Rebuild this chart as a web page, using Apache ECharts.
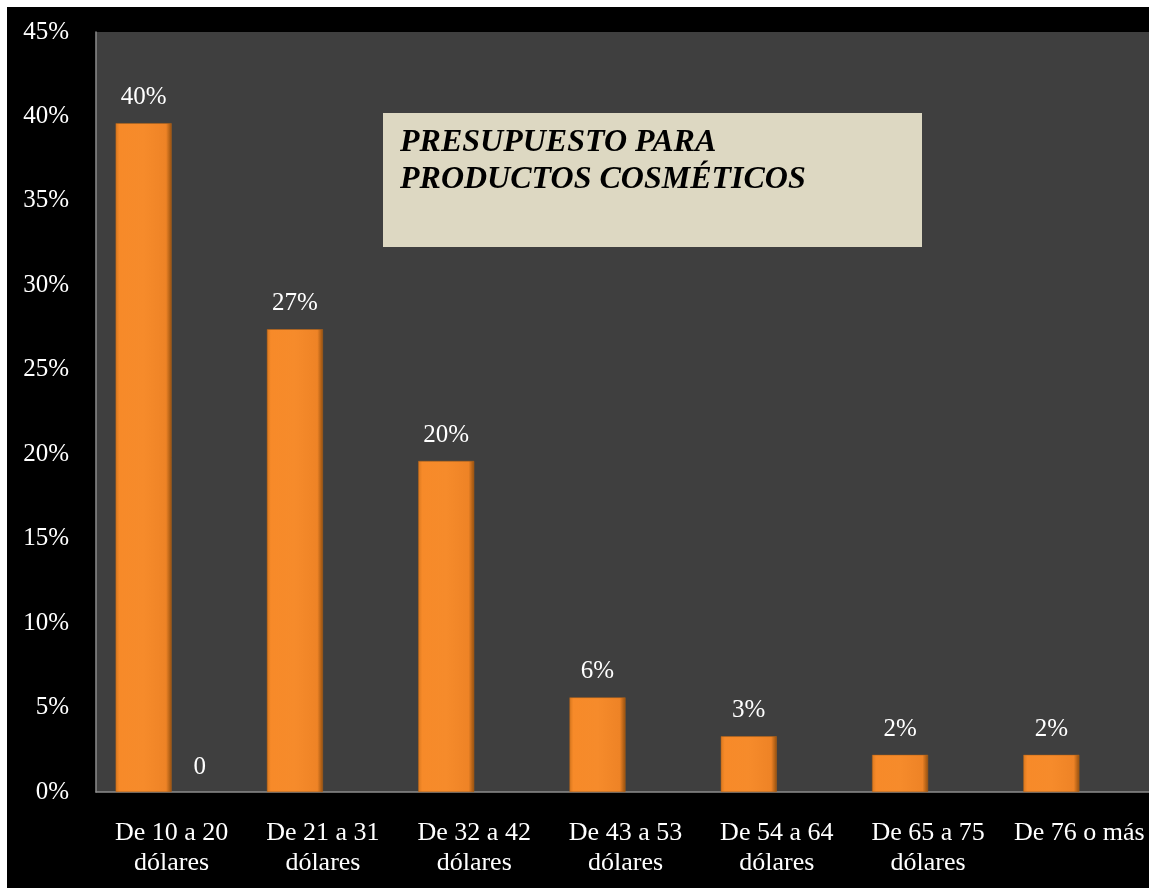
<!DOCTYPE html>
<html>
<head>
<meta charset="utf-8">
<script src="https://cdn.jsdelivr.net/npm/echarts@6/dist/echarts.min.js"></script>
<style>
  html, body { margin: 0; padding: 0; background: #ffffff; overflow: hidden; width: 100%; height: 100%; }
  #chart { position: absolute; left: 7px; top: 7px; width: 1153px; height: 881px; background: #000000; }
</style>
</head>
<body>
<div id="chart"></div>
<script>
// Budget ranges (x axis)
const categories = [
  'De 10 a 20\ndólares',
  'De 21 a 31\ndólares',
  'De 32 a 42\ndólares',
  'De 43 a 53\ndólares',
  'De 54 a 64\ndólares',
  'De 65 a 75\ndólares',
  'De 76 o más'
];
// Share of respondents per range
const shares = [0.396, 0.274, 0.196, 0.056, 0.033, 0.022, 0.022];
// Companion series, only the first category carries a value
const secondary = [0, '-', '-', '-', '-', '-', '-'];
// Y axis scale
const yMin = 0, yMax = 0.45, yStep = 0.05;
const titleLines = ['PRESUPUESTO PARA', 'PRODUCTOS COSMÉTICOS'];

const serif = '"Liberation Serif", "Times New Roman", serif';
const chart = echarts.init(document.getElementById('chart'));

const barFill = {
  type: 'linear', x: 0, y: 0, x2: 1, y2: 0,
  colorStops: [
    { offset: 0, color: '#d9781f' },
    { offset: 0.07, color: '#f78a29' },
    { offset: 0.5, color: '#f68b2b' },
    { offset: 0.9, color: '#ee8326' },
    { offset: 1, color: '#94500f' }
  ]
};

chart.setOption({
  backgroundColor: '#000000',
  animation: false,
  grid: {
    left: 89, top: 25, width: 1059, height: 760,
    show: true, backgroundColor: '#3f3f3f', borderWidth: 0
  },
  xAxis: {
    type: 'category',
    data: categories,
    axisLine: { lineStyle: { color: '#8c8c8c', width: 1.5 } },
    axisTick: { show: false },
    axisLabel: {
      color: '#ffffff', fontFamily: serif, fontSize: 26,
      lineHeight: 30, margin: 26, interval: 0
    }
  },
  yAxis: {
    type: 'value',
    min: yMin, max: yMax, interval: yStep,
    axisLine: { show: true, lineStyle: { color: '#8c8c8c', width: 1.5 } },
    axisTick: { show: false },
    splitLine: { show: false },
    axisLabel: {
      color: '#ffffff', fontFamily: serif, fontSize: 25, margin: 27,
      formatter: v => Math.round(v * 100) + '%'
    }
  },
  series: [
    {
      type: 'bar',
      data: shares,
      barWidth: 56,
      barGap: '0%',
      itemStyle: { color: barFill, borderColor: '#b86416', borderWidth: 0.5 },
      label: {
        show: true, position: 'top', distance: 13,
        color: '#ffffff', fontFamily: serif, fontSize: 25,
        formatter: p => Math.round(p.value * 100) + '%'
      }
    },
    {
      type: 'bar',
      data: secondary,
      barWidth: 56,
      itemStyle: { color: barFill },
      label: {
        show: true, position: 'top', distance: 12,
        color: '#ffffff', fontFamily: serif, fontSize: 25,
        formatter: p => String(p.value)
      }
    }
  ],
  graphic: [
    {
      type: 'rect', left: 376, top: 106, z: 10,
      shape: { width: 539, height: 134 },
      style: { fill: '#ddd8c2' }
    },
    {
      type: 'text', left: 393, top: 117, z: 11,
      style: {
        text: titleLines.join('\n'),
        fill: '#000000',
        font: 'italic bold 32px ' + serif,
        lineHeight: 37
      }
    }
  ]
});
</script>
</body>
</html>
